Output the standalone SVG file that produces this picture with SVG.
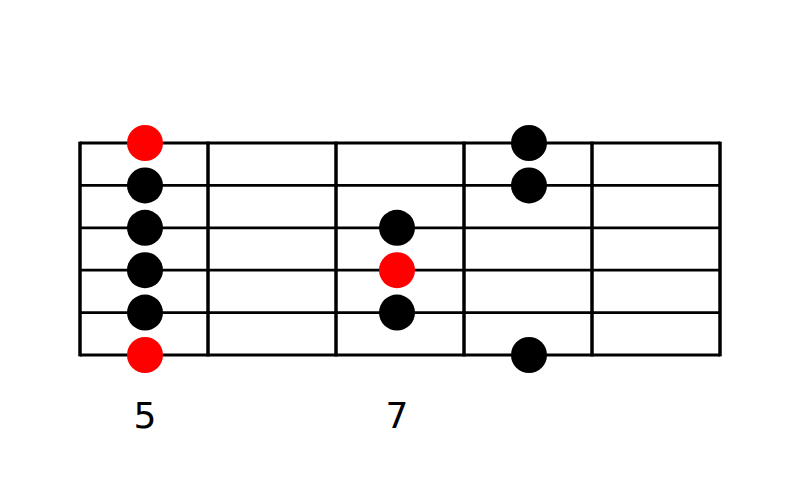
<svg xmlns="http://www.w3.org/2000/svg" width="800" height="500" viewBox="0 0 800 500">
<style>
.str{stroke:#000;stroke-width:2.8}
.fret{stroke:#000;stroke-width:3.5}
.n{fill:#000}
.r{fill:#f00}
.lbl{font-family:"DejaVu Sans",sans-serif;font-size:36px;text-anchor:middle;fill:#000}
</style>
<rect width="800" height="500" fill="#fff"/>
<g id="fretboard">
<g id="strings">
<line class="str" x1="80" y1="143" x2="720" y2="143"/>
<line class="str" x1="80" y1="185.4" x2="720" y2="185.4"/>
<line class="str" x1="80" y1="227.8" x2="720" y2="227.8"/>
<line class="str" x1="80" y1="270.2" x2="720" y2="270.2"/>
<line class="str" x1="80" y1="312.6" x2="720" y2="312.6"/>
<line class="str" x1="80" y1="355" x2="720" y2="355"/>
</g>
<g id="frets">
<line class="fret" x1="80" y1="141.6" x2="80" y2="356.4"/>
<line class="fret" x1="208" y1="141.6" x2="208" y2="356.4"/>
<line class="fret" x1="336" y1="141.6" x2="336" y2="356.4"/>
<line class="fret" x1="464" y1="141.6" x2="464" y2="356.4"/>
<line class="fret" x1="592" y1="141.6" x2="592" y2="356.4"/>
<line class="fret" x1="720" y1="141.6" x2="720" y2="356.4"/>
</g>
</g>
<g id="dots">
<circle id="d1" class="r" cx="145" cy="143" r="18"/>
<circle id="d2" class="n" cx="145" cy="185.4" r="18"/>
<circle id="d3" class="n" cx="145" cy="227.8" r="18"/>
<circle id="d4" class="n" cx="145" cy="270.2" r="18"/>
<circle id="d5" class="n" cx="145" cy="312.6" r="18"/>
<circle id="d6" class="r" cx="145" cy="355" r="18"/>
<circle id="d7" class="n" cx="397" cy="227.8" r="18"/>
<circle id="d8" class="r" cx="397" cy="270.2" r="18"/>
<circle id="d9" class="n" cx="397" cy="312.6" r="18"/>
<circle id="d10" class="n" cx="529" cy="143" r="18"/>
<circle id="d11" class="n" cx="529" cy="185.4" r="18"/>
<circle id="d12" class="n" cx="529" cy="355" r="18"/>
</g>
<g id="labels">
<text class="lbl" x="145" y="428">5</text>
<text class="lbl" x="397" y="428">7</text>
</g>
</svg>
